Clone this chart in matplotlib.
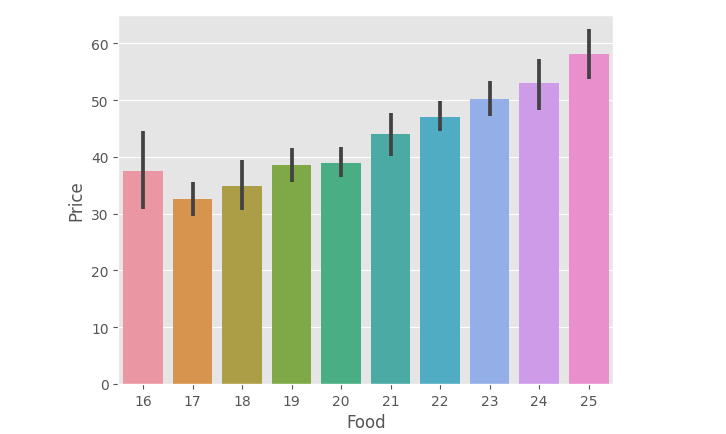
import numpy as np
import matplotlib
matplotlib.use("Agg")
import matplotlib.pyplot as plt
import seaborn as sns

# Data
food = ['16', '17', '18', '19', '20', '21', '22', '23', '24', '25']
price = [37.6, 32.6, 34.9, 38.5, 39.0, 44.1, 47.1, 50.3, 53.1, 58.1]
ci_low = [30.9, 29.6, 30.7, 35.6, 36.5, 40.2, 44.5, 47.3, 48.3, 53.8]
ci_high = [44.5, 35.6, 39.5, 41.5, 41.8, 47.8, 49.8, 53.3, 57.2, 62.5]

plt.style.use('ggplot')

# seaborn-style palette for many categories
colors = sns.color_palette(
    [sns.desaturate(c, 0.75) for c in sns.husl_palette(len(food), l=.7)])

fig = plt.figure(figsize=(7.26, 4.35), dpi=100)
ax = fig.add_axes([0.163, 0.115, 0.682, 0.848])

x = np.arange(len(food))
price = np.array(price)
yerr = np.array([price - np.array(ci_low), np.array(ci_high) - price])

ax.bar(x, price, width=0.8, color=colors, zorder=2)
ax.errorbar(x, price, yerr=yerr, fmt='none', ecolor='#424242',
            elinewidth=2.7, capsize=0, zorder=3)

ax.set_xticks(x)
ax.set_xticklabels(food)
ax.set_xlim(-0.5, len(food) - 0.5)
ax.set_ylim(0, 65)
ax.set_xlabel('Food')
ax.set_ylabel('Price')
ax.grid(axis='x', visible=False)

fig.savefig('out.png', dpi=100)
